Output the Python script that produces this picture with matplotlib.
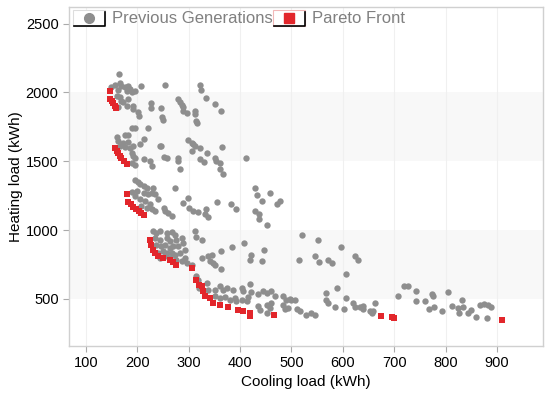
import matplotlib.pyplot as plt
from matplotlib.patches import Rectangle
from matplotlib.lines import Line2D

plt.rcParams['font.family'] = ['Liberation Sans', 'DejaVu Sans']

# previous generations (cooling load, heating load) in kWh
prev_cool = [
    # group near 2000
    148, 156, 165, 169, 176, 182, 186, 179, 189, 195, 208, 254, 163, 160, 166, 169,
    173, 179, 163, 182, 192, 192, 202, 203, 226, 226, 247, 248, 249, 280, 283, 286,
    289, 288, 296, 312, 313, 315, 317, 322, 323, 333, 351, 362, 166,
    # group near 1550
    189, 195, 176, 182, 221, 160, 163, 173, 182, 166, 176, 186, 192, 205, 212, 189,
    192, 195, 189, 195, 212, 225, 228, 244, 247, 251, 257, 280, 280, 284, 299, 306,
    309, 312, 322, 306, 335, 322, 330, 351, 354, 361, 360, 366, 365, 411,
    # group near 1200
    195, 202, 189, 195, 199,
    205, 212, 218, 231, 212, 221, 228, 234, 241, 205, 215, 225, 208, 218, 228, 234,
    251, 254, 260, 267, 273, 289, 299, 301, 309, 319, 334, 332, 338, 356, 382, 392,
    429, 432, 442, 458, 471, 429, 437, 437, 452, 478,
    # group near 850
    231, 237, 244, 257, 267, 273, 234, 244, 257, 263, 276, 286, 237, 247, 254, 263,
    270, 280, 289, 241, 250, 257, 267, 273, 283, 293, 244, 254, 263, 276, 286, 296,
    293, 306, 315, 318, 320, 312, 314,
    325, 325, 338, 345, 341, 348, 351, 362, 362, 385, 407, 422, 420, 442, 446, 521,
    552, 514, 546, 553, 572, 578,
    # lower group near 450
    588, 568, 567, 572, 585, 335, 328, 338, 351, 361, 367, 374, 387, 403, 419, 406,
    422, 435, 445, 452, 461, 351, 361, 370, 380, 390, 393, 403, 413, 416, 435, 439,
    452, 458, 452, 468, 461, 484, 490, 497, 507, 484, 487, 494, 500, 510, 516, 529,
    539, 546,
    597, 623, 630, 606, 607, 602, 620, 623, 633, 640, 640, 653, 656, 662, 659, 708,
    719, 727, 743, 743, 760, 773, 775, 768, 778, 793, 805, 812, 825, 827, 833, 834,
    844, 850, 860, 867, 875, 883, 889, 881,
]
prev_heat = [
    2038, 2055, 2135, 2050, 2038, 2045, 2026, 2009, 2001, 2009, 2050, 2057, 2014, 1977, 1965, 1941,
    1928, 1904, 1892, 1953, 1904, 1880, 1855, 1831, 1923, 1885, 1885, 1819, 1800, 1953, 1928, 1909,
    1892, 1868, 1850, 1868, 1843, 1795, 1778, 2055, 2014, 1958, 1916, 1868, 2070,
    1739, 1739, 1690, 1690, 1739, 1673, 1649, 1636, 1641, 1607, 1600, 1593, 1607, 1624, 1661, 1563,
    1539, 1520, 1490, 1471, 1515, 1503, 1466, 1612, 1607, 1534, 1525, 1527, 1503, 1447, 1656, 1636,
    1624, 1612, 1593, 1576, 1559, 1515, 1495, 1520, 1503, 1486, 1442, 1405, 1600, 1520,
    1364, 1349, 1276, 1247, 1284,
    1332, 1320, 1308, 1308, 1271, 1259, 1271, 1259, 1223, 1223, 1211, 1186, 1174, 1162, 1150, 1138,
    1162, 1138, 1125, 1101, 1308, 1198, 1235, 1162, 1138, 1130, 1155, 1113, 1096, 1206, 1191, 1150,
    1308, 1252, 1211, 1266, 1186, 1138, 1113, 1082, 1040, 1211,
    991, 979, 991, 979, 984, 967, 943, 931, 943, 919, 931, 943, 894, 882, 894, 870,
    882, 882, 906, 833, 846, 833, 833, 821, 833, 858, 797, 809, 797, 785, 773, 760,
    797, 748, 663, 639, 578, 992, 950,
    931, 797, 814, 821, 773, 760, 748, 846, 717, 877, 906, 821, 785, 773, 858, 967,
    931, 785, 809, 765, 780, 760,
    578, 541, 493, 473, 444, 614, 566, 561, 561, 590, 566, 578, 561, 578, 610, 554,
    546, 537, 554, 541, 554, 517, 505, 512, 493, 505, 481, 493, 481, 512, 449, 420,
    456, 432, 400, 522, 473, 517, 493, 498, 493, 456, 425, 432, 493, 425, 408, 383,
    395, 383,
    877, 809, 780, 683, 505, 425, 468, 439, 439, 449, 425, 408, 395, 468, 408, 517,
    590, 595, 559, 486, 486, 537, 517, 427, 439, 412, 546, 451, 432, 395, 493, 439,
    400, 420, 371, 456, 464, 456, 439, 359,
]

# pareto front (cooling load, heating load) in kWh
pareto_cool = [
    146, 147, 150, 153, 156, 158,
    156, 160, 163, 166, 169, 174, 179,
    179, 182, 187, 192, 197, 203, 208, 212,
    224, 226, 231, 234, 241, 250, 263, 270, 276, 306,
    315, 320, 325, 328, 332, 341, 348, 361, 377, 396, 406, 419, 420, 466,
    675, 695, 700, 909,
]
pareto_heat = [
    2009, 1953, 1935, 1920, 1903, 1888,
    1593, 1576, 1559, 1539, 1520, 1503, 1483,
    1259, 1203, 1186, 1169, 1155, 1138, 1121, 1106,
    931, 894, 858, 833, 814, 797, 780, 765, 748, 724,
    634, 602, 590, 554, 522, 505, 473, 456, 439, 420, 408, 395, 378, 383,
    376, 371, 359, 347,
]

x_ticks = [100, 200, 300, 400, 500, 600, 700, 800, 900]
y_ticks = [500, 1000, 1500, 2000, 2500]

fig = plt.figure(figsize=(5.5, 3.95), dpi=100)
ax = fig.add_axes([0.1255, 0.124, 0.862, 0.858])

ax.set_xlim(67, 990)
ax.set_ylim(157, 2620)

# shaded bands between alternate y ticks
for lo, hi in [(500, 1000), (1500, 2000)]:
    ax.axhspan(lo, hi, color='#f8f8f8', zorder=0, lw=0)
for xv in x_ticks:
    ax.axvline(xv, color='#f0f0f0', lw=0.8, zorder=0.5)

ax.scatter(prev_cool, prev_heat, s=21, marker='o', color='#8e8e8e', lw=0, zorder=2)
ax.scatter(pareto_cool, pareto_heat, s=22, marker='s', color='#e2262b', lw=0, zorder=3)

ax.set_xticks(x_ticks)
ax.set_yticks(y_ticks)
ax.tick_params(labelsize=10.5, colors='#000000', length=4, width=0.8)
ax.tick_params(axis='both', color='#aaaaaa')
for s in ax.spines.values():
    s.set_color('#d0d0d0')
    s.set_linewidth(1.0)

ax.set_xlabel('Cooling load (kWh)', fontsize=11, labelpad=3)
ax.set_ylabel('Heating load (kWh)', fontsize=11, labelpad=2)

# legend drawn by hand: bordered marker boxes
def legend_item(x0, label, marker, color, edge):
    y0, w, h = 0.934, 0.057, 0.040
    fig.add_artist(Rectangle((x0, y0), w, h, transform=fig.transFigure, facecolor='white',
                             edgecolor=edge, lw=0.8, zorder=5))
    fig.add_artist(Line2D([x0 + 0.002, x0 + w, x0 + w], [y0, y0, y0 + h - 0.004],
                          transform=fig.transFigure, color='black', lw=1.2, zorder=6))
    fig.add_artist(Line2D([x0 + w / 2], [y0 + h / 2], transform=fig.transFigure, marker=marker,
                          color=color, markersize=7 if marker == 'o' else 6.5, lw=0, zorder=7))
    fig.text(x0 + w + 0.013, y0 + h / 2, label, fontsize=12, color='#808080',
             va='center', ha='left')

legend_item(0.133, 'Previous Generations', 'o', '#8e8e8e', '#dddddd')
legend_item(0.497, 'Pareto Front', 's', '#e2262b', '#f2b8b8')

fig.savefig('out.png', dpi=100)
